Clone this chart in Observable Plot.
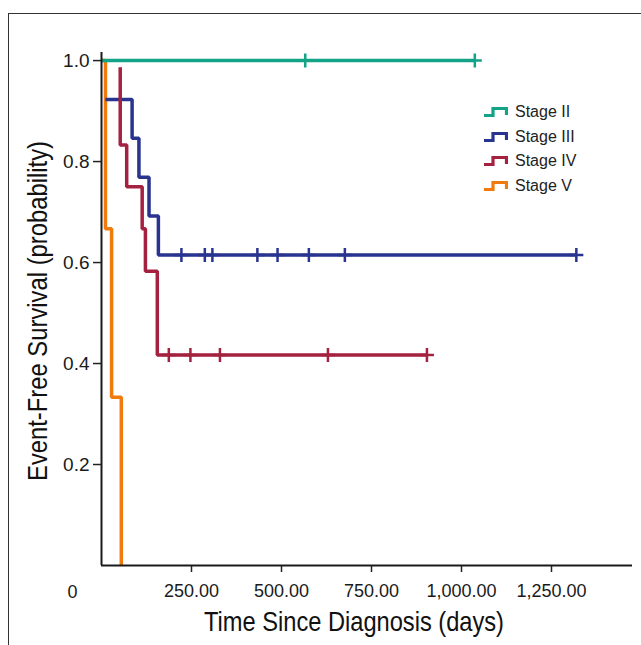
<!DOCTYPE html>
<html>
<head>
<meta charset="utf-8">
<script src="https://cdn.jsdelivr.net/npm/d3@7"></script>
<script src="https://cdn.jsdelivr.net/npm/@observablehq/plot@0.6"></script>
<style>
  html, body { margin: 0; padding: 0; background: #fff; }
  #wrap { position: relative; width: 641px; height: 645px; overflow: hidden; }
  #wrap > svg { position: absolute; left: 0; top: 0; }
  .frame-top { position: absolute; left: 8px; top: 13px; width: 640px; height: 0; border-top: 1px solid #333; }
  .frame-left { position: absolute; left: 8px; top: 13px; width: 0; height: 640px; border-left: 1px solid #333; }
  #legend { position: absolute; left: 484px; top: 100px; font-family: "Liberation Sans", Arial, sans-serif; font-size: 16px; color: #222; }
  #legend .item { height: 24.5px; display: flex; align-items: center; white-space: nowrap; }
  #legend svg { position: static; margin-right: 7px; }
</style>
</head>
<body>
<div id="wrap">
  <div class="frame-top"></div>
  <div class="frame-left"></div>
  <div id="legend"></div>
</div>
<script>
// ---- data ----
const stages = ["Stage II", "Stage III", "Stage IV", "Stage V"];
const colors = ["#13a386", "#28348f", "#a52140", "#f07b0c"];

const stage2Times = [0, 1037];
const stage2Surv = [1, 1];
const stage2Censor = [566, 1037];

const stage3Times = [11, 85, 104, 132, 158, 1319];
const stage3Surv = [0.923, 0.846, 0.769, 0.692, 0.615, 0.615];
const stage3Censor = [222, 287, 308, 433, 489, 576, 676, 1319];

const stage4Times = [52, 52, 70, 113, 122, 155, 904];
const stage4Surv = [0.987, 0.833, 0.75, 0.667, 0.583, 0.417, 0.417];
const stage4Censor = [187, 247, 329, 629, 904];

const stage5Times = [0, 11, 28, 55];
const stage5Surv = [1, 0.667, 0.333, 0];
const stage5Censor = [];

const yTicks = [0.2, 0.4, 0.6, 0.8, 1.0];
const xTicks = [250, 500, 750, 1000, 1250];
const xZeroLabel = ["0"];
const xTitle = "Time Since Diagnosis (days)";
const yTitle = "Event-Free Survival (probability)";

// ---- build ----
const series = [
  {times: stage2Times, surv: stage2Surv, censor: stage2Censor},
  {times: stage3Times, surv: stage3Surv, censor: stage3Censor},
  {times: stage4Times, surv: stage4Surv, censor: stage4Censor},
  {times: stage5Times, surv: stage5Surv, censor: stage5Censor}
];
function survAt(s, t) {
  let v = s.surv[0];
  for (let i = 0; i < s.times.length; i++) if (s.times[i] <= t) v = s.surv[i];
  return v;
}
const censorSymbol = {
  draw(ctx, size) {
    const r = Math.sqrt(size / Math.PI);
    ctx.moveTo(0, -r); ctx.lineTo(0, r);
    ctx.moveTo(-r, 0); ctx.lineTo(r, 0);
  }
};

const tickFont = "'Liberation Sans', Arial, sans-serif";

const drawOrder = [3, 1, 2, 0];
const curveMarks = [];
for (const i of drawOrder) {
  const s = series[i];
  const pts = s.times.map((t, k) => ({t, s: s.surv[k]}));
  curveMarks.push(Plot.line(pts, {x: "t", y: "s", curve: "step-after", stroke: colors[i], strokeWidth: 3.5, strokeLinecap: "butt", strokeLinejoin: "miter"}));
  const cs = s.censor.map(t => ({t, s: survAt(s, t)}));
  curveMarks.push(Plot.dot(cs, {x: "t", y: "s", symbol: censorSymbol, r: 7, stroke: colors[i], fill: "none", strokeWidth: 2.5}));
}

const chart = Plot.plot({
  width: 641,
  height: 645,
  marginLeft: 101,
  marginRight: 9,
  marginTop: 52,
  marginBottom: 80,
  style: {fontFamily: tickFont, color: "#1a1a1a", background: "transparent"},
  x: {domain: [0, 1475]},
  y: {domain: [0, 1.016]},
  marks: [
    Plot.axisY({ticks: yTicks, tickFormat: d3.format(".1f"), tickSize: 8, tickPadding: 4, fontSize: 19, label: null, stroke: "#222", strokeWidth: 1.5}),
    Plot.axisX({ticks: xTicks, tickFormat: d3.format(",.2f"), tickSize: 7, tickPadding: 12, fontSize: 18, label: null, stroke: "#222", strokeWidth: 1.5}),
    Plot.text(xZeroLabel, {x: 0, y: 0, text: d => d, dx: -29, dy: 27, fontSize: 18, fill: "#1a1a1a"}),
    ...curveMarks,
    Plot.ruleX([0], {stroke: "#1a1a1a", strokeWidth: 2}),
    Plot.ruleY([0], {stroke: "#1a1a1a", strokeWidth: 2}),
    Plot.text([xTitle], {frameAnchor: "bottom", text: d => d, dx: -13, dy: 57, fontSize: 28, fill: "#111", lineAnchor: "middle", textAnchor: "middle", className: "xtitle"}),
    Plot.text([yTitle], {frameAnchor: "left", text: d => d, dx: -63, dy: 2, rotate: -90, fontSize: 28, fill: "#111", lineAnchor: "middle", textAnchor: "middle", className: "ytitle"})
  ]
});
document.getElementById("wrap").appendChild(chart);

// condense the axis titles (narrow typeface look)
chart.querySelectorAll(".xtitle text").forEach(t => { t.setAttribute("textLength", 300); t.setAttribute("lengthAdjust", "spacingAndGlyphs"); });
chart.querySelectorAll(".ytitle text").forEach(t => { t.setAttribute("textLength", 340); t.setAttribute("lengthAdjust", "spacingAndGlyphs"); });

// legend
const legend = document.getElementById("legend");
stages.forEach((name, i) => {
  const item = document.createElement("div");
  item.className = "item";
  item.innerHTML = `<svg width="24" height="12" viewBox="0 0 24 12"><path d="M0,9.5 H9 V2.5 H22.5 V9" fill="none" stroke="${colors[i]}" stroke-width="3.2"/></svg><span>${name}</span>`;
  legend.appendChild(item);
});
</script>
</body>
</html>
